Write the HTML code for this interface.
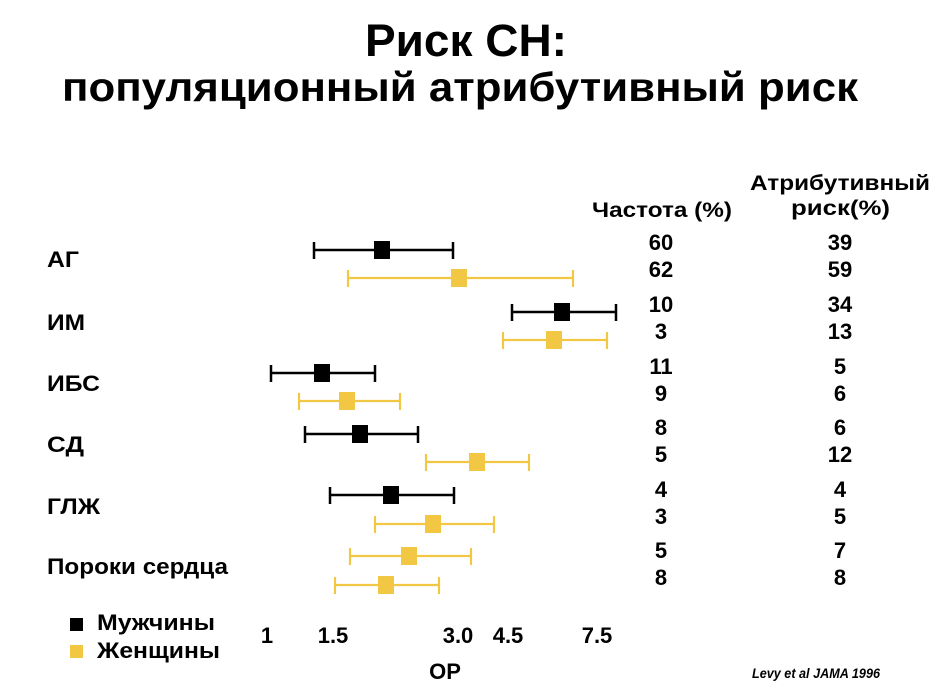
<!DOCTYPE html>
<html><head><meta charset="utf-8"><style>
html,body{margin:0;padding:0;background:#fff;}
svg{display:block;font-family:"Liberation Sans",Arial,sans-serif;font-weight:bold;}
</style></head><body>
<svg width="940" height="699" viewBox="0 0 940 699" xmlns="http://www.w3.org/2000/svg">
<text x="365" y="56" font-size="45" textLength="202" lengthAdjust="spacingAndGlyphs">Риск СН:</text>
<text x="62" y="101" font-size="41" textLength="796" lengthAdjust="spacingAndGlyphs">популяционный атрибутивный риск</text>
<text x="592" y="217" font-size="21" textLength="140" lengthAdjust="spacingAndGlyphs">Частота (%)</text>
<text x="750" y="190" font-size="21" textLength="180" lengthAdjust="spacingAndGlyphs">Атрибутивный</text>
<text x="791" y="215" font-size="21" textLength="99" lengthAdjust="spacingAndGlyphs">риск(%)</text>
<g font-size="22">
<text x="47" y="267" textLength="32" lengthAdjust="spacingAndGlyphs">АГ</text>
<text x="47" y="330" textLength="38" lengthAdjust="spacingAndGlyphs">ИМ</text>
<text x="47" y="391" textLength="53" lengthAdjust="spacingAndGlyphs">ИБС</text>
<text x="47" y="452" textLength="37" lengthAdjust="spacingAndGlyphs">СД</text>
<text x="47" y="514" textLength="53" lengthAdjust="spacingAndGlyphs">ГЛЖ</text>
<text x="47" y="574" textLength="181" lengthAdjust="spacingAndGlyphs">Пороки сердца</text>
</g>
<g font-size="22" text-anchor="middle">
<text x="661" y="250">60</text><text x="661" y="277">62</text>
<text x="661" y="312">10</text><text x="661" y="339">3</text>
<text x="661" y="374">11</text><text x="661" y="401">9</text>
<text x="661" y="435">8</text><text x="661" y="462">5</text>
<text x="661" y="497">4</text><text x="661" y="524">3</text>
<text x="661" y="558">5</text><text x="661" y="585">8</text>
<text x="840" y="250">39</text><text x="840" y="277">59</text>
<text x="840" y="312">34</text><text x="840" y="339">13</text>
<text x="840" y="374">5</text><text x="840" y="401">6</text>
<text x="840" y="435">6</text><text x="840" y="462">12</text>
<text x="840" y="497">4</text><text x="840" y="524">5</text>
<text x="840" y="558">7</text><text x="840" y="585">8</text>
</g>
<g stroke="#000" stroke-width="2.5" fill="#000">
<line x1="314" y1="250" x2="453" y2="250"/><line x1="314" y1="242" x2="314" y2="259"/><line x1="453" y1="242" x2="453" y2="259"/><rect x="374" y="241" width="16" height="18" stroke="none"/>
<line x1="512" y1="312" x2="616" y2="312"/><line x1="512" y1="304" x2="512" y2="321"/><line x1="616" y1="304" x2="616" y2="321"/><rect x="554" y="303" width="16" height="18" stroke="none"/>
<line x1="271" y1="373" x2="375" y2="373"/><line x1="271" y1="365" x2="271" y2="382"/><line x1="375" y1="365" x2="375" y2="382"/><rect x="314" y="364" width="16" height="18" stroke="none"/>
<line x1="305" y1="434" x2="418" y2="434"/><line x1="305" y1="426" x2="305" y2="443"/><line x1="418" y1="426" x2="418" y2="443"/><rect x="352" y="425" width="16" height="18" stroke="none"/>
<line x1="330" y1="495" x2="454" y2="495"/><line x1="330" y1="487" x2="330" y2="504"/><line x1="454" y1="487" x2="454" y2="504"/><rect x="383" y="486" width="16" height="18" stroke="none"/>
</g>
<g stroke="#F2C744" stroke-width="2.2" fill="#F2C744">
<line x1="348" y1="278" x2="573" y2="278"/><line x1="348" y1="270" x2="348" y2="287"/><line x1="573" y1="270" x2="573" y2="287"/><rect x="451" y="269" width="16" height="18" stroke="none"/>
<line x1="503" y1="340" x2="607" y2="340"/><line x1="503" y1="332" x2="503" y2="349"/><line x1="607" y1="332" x2="607" y2="349"/><rect x="546" y="331" width="16" height="18" stroke="none"/>
<line x1="299" y1="401" x2="400" y2="401"/><line x1="299" y1="393" x2="299" y2="410"/><line x1="400" y1="393" x2="400" y2="410"/><rect x="339" y="392" width="16" height="18" stroke="none"/>
<line x1="426" y1="462" x2="529" y2="462"/><line x1="426" y1="454" x2="426" y2="471"/><line x1="529" y1="454" x2="529" y2="471"/><rect x="469" y="453" width="16" height="18" stroke="none"/>
<line x1="375" y1="524" x2="494" y2="524"/><line x1="375" y1="516" x2="375" y2="533"/><line x1="494" y1="516" x2="494" y2="533"/><rect x="425" y="515" width="16" height="18" stroke="none"/>
<line x1="350" y1="556" x2="471" y2="556"/><line x1="350" y1="548" x2="350" y2="565"/><line x1="471" y1="548" x2="471" y2="565"/><rect x="401" y="547" width="16" height="18" stroke="none"/>
<line x1="335" y1="585" x2="439" y2="585"/><line x1="335" y1="577" x2="335" y2="594"/><line x1="439" y1="577" x2="439" y2="594"/><rect x="378" y="576" width="16" height="18" stroke="none"/>
</g>
<rect x="70" y="618" width="13" height="13" fill="#000"/>
<rect x="70" y="645" width="13" height="13" fill="#F2C744"/>
<text x="97" y="630" font-size="22" textLength="118" lengthAdjust="spacingAndGlyphs">Мужчины</text>
<text x="97" y="658" font-size="22" textLength="123" lengthAdjust="spacingAndGlyphs">Женщины</text>
<g font-size="22" text-anchor="middle">
<text x="267" y="643">1</text>
<text x="333" y="643">1.5</text>
<text x="458" y="643">3.0</text>
<text x="508" y="643">4.5</text>
<text x="597" y="643">7.5</text>
<text x="445" y="679">ОР</text>
</g>
<text x="752" y="678" font-size="14" font-style="italic" textLength="128" lengthAdjust="spacingAndGlyphs">Levy et al JAMA 1996</text>
</svg>
</body></html>
